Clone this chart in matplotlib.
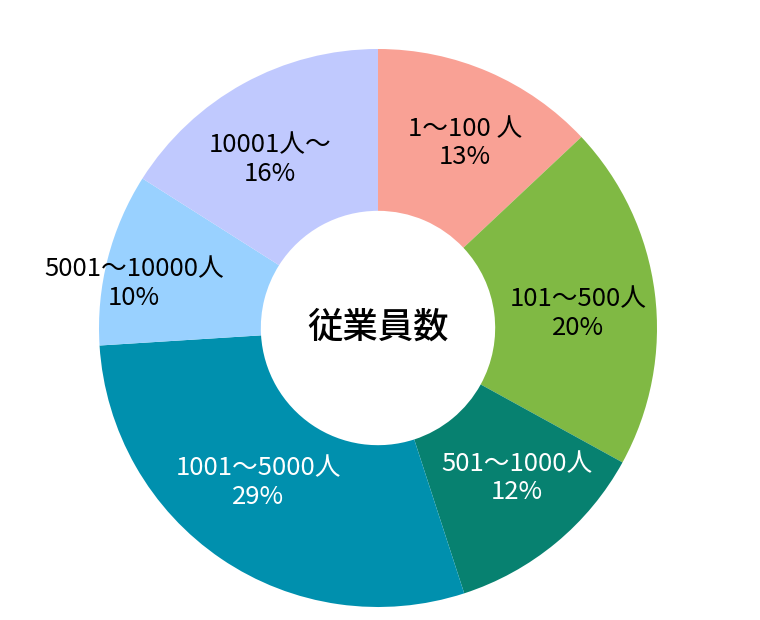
import numpy as np
import matplotlib.pyplot as plt

plt.rcParams['font.family'] = ['Noto Sans CJK JP', 'DejaVu Sans']

# データ
labels = ["1〜100 人", "101〜500人", "501〜1000人", "1001〜5000人", "5001〜10000人", "10001人〜"]
shares = [13, 20, 12, 29, 10, 16]
colors = ["#F9A195", "#80B944", "#078170", "#0090AE", "#99D1FF", "#C0C9FE"]
text_colors = ["black", "black", "white", "white", "black", "black"]
center_title = "従業員数"

# ラベルの微調整 (px, 右/下が正)
nudge = [(6, 2), (-2, 11), (9, -7), (-5, -14), (-47, 6), (-10, 10)]

W, H = 760, 620
cx, cy, R = 378, 328, 279   # pixel center and outer radius

fig = plt.figure(figsize=(W / 100, H / 100), dpi=100)
ax = fig.add_axes([0, 0, 1, 1])

wedges, _ = ax.pie(shares, colors=colors, startangle=90, counterclock=False,
                   radius=1, wedgeprops=dict(width=0.58, linewidth=0))

for w, lab, pct, tc, (dx, dy) in zip(wedges, labels, shares, text_colors, nudge):
    ang = np.deg2rad((w.theta1 + w.theta2) / 2)
    x = 0.73 * np.cos(ang) + dx / R
    y = 0.73 * np.sin(ang) - dy / R
    ax.text(x, y, f"{lab}\n{pct}%", ha="center", va="center",
            fontsize=18.5, color=tc, linespacing=1.12)

ax.text(0, 0, center_title, ha="center", va="center", fontsize=25.5, fontweight="medium")

ax.set_xlim(-cx / R, (W - cx) / R)
ax.set_ylim(-(H - cy) / R, cy / R)
ax.set_aspect("auto")
ax.axis("off")

fig.savefig("out.png", dpi=100, facecolor="white")
